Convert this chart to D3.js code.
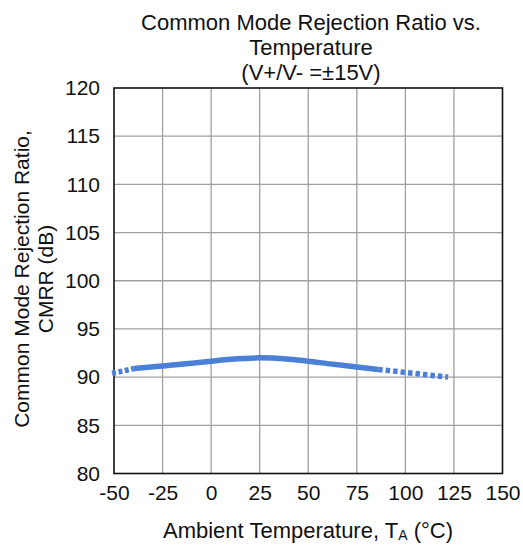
<!DOCTYPE html>
<html><head><meta charset="utf-8">
<script src="https://cdn.jsdelivr.net/npm/d3@7"></script>
<style>body{margin:0;background:#fff}svg{display:block}text{font-family:"Liberation Sans",Arial,sans-serif;fill:#111}</style>
</head><body><svg id="c" width="523" height="546"></svg>
<script>
const titleLines = ["Common Mode Rejection Ratio vs.", "Temperature", "(V+/V- =±15V)"];
const xTicks = [-50, -25, 0, 25, 50, 75, 100, 125, 150];
const yTicks = [80, 85, 90, 95, 100, 105, 110, 115, 120];
// measured segment (solid) and extrapolated ends (dashed)
const dashLeftT = [-51, -45, -40];
const dashLeftV = [90.4, 90.65, 90.88];
const solidT = [-40, -25, -10, 0, 10, 25, 40, 50, 60, 75, 86];
const solidV = [90.88, 91.15, 91.45, 91.65, 91.85, 92.0, 91.85, 91.65, 91.4, 91.05, 90.8];
const dashRightT = [86, 95, 105, 115, 122];
const dashRightV = [90.8, 90.6, 90.38, 90.15, 90.0];

const FONT = '"Liberation Sans",Arial,sans-serif';
const svg = d3.select("#c");
const L = 114, R = 502.5, T = 88, B = 473.5;
const x = d3.scaleLinear().domain([-50, 150]).range([L, R]);
const y = d3.scaleLinear().domain([80, 120]).range([B, T]);

// title
svg.append("g").selectAll("text").data(titleLines).join("text")
  .attr("x", 311).attr("y", (d, i) => 30 + i * 25)
  .attr("text-anchor", "middle").attr("font-size", 22).text(d => d);

// grid
const g = svg.append("g");
g.selectAll(".vx").data(xTicks.slice(1, -1)).join("line")
  .attr("x1", d => x(d)).attr("x2", d => x(d)).attr("y1", T).attr("y2", B)
  .attr("stroke", "#a0a0a0").attr("stroke-width", 1.3);
g.selectAll(".hy").data(yTicks.slice(1, -1)).join("line")
  .attr("y1", d => y(d)).attr("y2", d => y(d)).attr("x1", L).attr("x2", R)
  .attr("stroke", "#a0a0a0").attr("stroke-width", 1.3);

// axes via d3 axis (labels only)
const xa = svg.append("g").attr("transform", `translate(0,${B})`)
  .call(d3.axisBottom(x).tickValues(xTicks).tickFormat(d => String(d)).tickSize(0).tickPadding(11.5));
xa.select(".domain").remove();
xa.selectAll("text").attr("font-size", 21).attr("fill", "#111").attr("font-family", FONT);
const ya = svg.append("g").attr("transform", `translate(${L},0)`)
  .call(d3.axisLeft(y).tickValues(yTicks).tickFormat(d => String(d)).tickSize(0).tickPadding(14));
ya.select(".domain").remove();
ya.selectAll("text").attr("font-size", 21).attr("fill", "#111").attr("font-family", FONT);

// border
svg.append("rect").attr("x", L).attr("y", T).attr("width", R - L).attr("height", B - T)
  .attr("fill", "none").attr("stroke", "#111").attr("stroke-width", 1.6);

// curves
const line = d3.line().x(d => x(d[0])).y(d => y(d[1])).curve(d3.curveMonotoneX);
const col = "#4a80d6";
svg.append("path").datum(dashLeftT.map((t, i) => [t, dashLeftV[i]]))
  .attr("d", line).attr("fill", "none").attr("stroke", col).attr("stroke-width", 5.5)
  .attr("stroke-dasharray", "4,2.5");
svg.append("path").datum(solidT.map((t, i) => [t, solidV[i]]))
  .attr("d", line).attr("fill", "none").attr("stroke", col).attr("stroke-width", 5.5);
svg.append("path").datum(dashRightT.map((t, i) => [t, dashRightV[i]]))
  .attr("d", line).attr("fill", "none").attr("stroke", col).attr("stroke-width", 5.5)
  .attr("stroke-dasharray", "4.5,3");

// axis titles
const xt = svg.append("text").attr("x", 308).attr("y", 538).attr("text-anchor", "middle").attr("font-size", 22);
xt.append("tspan").text("Ambient Temperature, T");
xt.append("tspan").attr("font-size", 14).attr("dy", 2).text("A");
xt.append("tspan").attr("dy", -2).text(" (°C)");

const yt = svg.append("g").attr("transform", "translate(0,279) rotate(-90)");
yt.append("text").attr("x", 0).attr("y", 29).attr("text-anchor", "middle").attr("font-size", 21)
  .text("Common Mode Rejection Ratio,");
yt.append("text").attr("x", 0).attr("y", 53).attr("text-anchor", "middle").attr("font-size", 21)
  .text("CMRR (dB)");
</script></body></html>
